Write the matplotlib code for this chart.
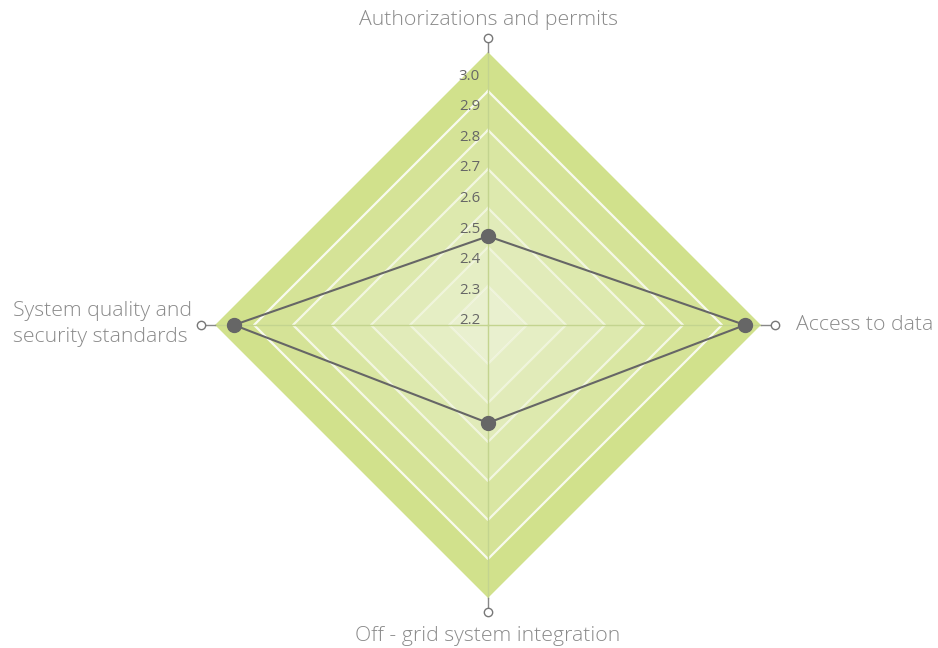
import numpy as np
import matplotlib.pyplot as plt
from matplotlib.colors import to_rgb

categories = ['Authorizations and permits', 'Access to data',
              'Off - grid system integration', 'System quality and\nsecurity standards']
values = [2.47, 3.02, 2.50, 3.01]
tick_values = [2.2, 2.3, 2.4, 2.5, 2.6, 2.7, 2.8, 2.9, 3.0]

r_min = 2.18      # value at the centre
r_max = 3.072     # value at the outer polygon
n_rings = 7
scale = 306.0     # pixels per value unit

angles = np.deg2rad([90, 0, 270, 180])

plt.rcParams['font.family'] = ['Open Sans', 'DejaVu Sans']

fig = plt.figure(figsize=(9.38, 6.48), dpi=100)
ax = fig.add_axes([0, 0, 1, 1])
cx, cy = 488, 648 - 325
ax.set_xlim(-cx / scale, (938 - cx) / scale)
ax.set_ylim(-cy / scale, (648 - cy) / scale)
ax.axis('off')


def xy(r, a):
    return r * np.cos(a), r * np.sin(a)


R = r_max - r_min
inner = np.array(to_rgb('#e9f0cf'))
outer = np.array(to_rgb('#d1e18c'))

# banded background, outer first
for k in range(n_rings, 0, -1):
    rk = R * k / n_rings
    px, py = xy(rk, angles)
    t = (k - 1) / (n_rings - 1)
    col = inner + (outer - inner) * t
    ax.fill(px, py, color=col, zorder=1, lw=0)
    if k < n_rings:
        ax.plot(np.append(px, px[0]), np.append(py, py[0]), color='white',
                lw=1.6, alpha=0.35 + 0.6 * t, zorder=2)

# spokes
r_end = 287 / scale
for a in angles:
    x0, y0 = xy(R, a)
    x1, y1 = xy(r_end, a)
    ax.plot([0, x0], [0, y0], color='#c3d48f', lw=1, zorder=3)
    ax.plot([x0, x1], [y0, y1], color='#888888', lw=1, zorder=3)
    ax.plot([x1], [y1], marker='o', ms=6, mfc='white', mec='#777777', mew=1, zorder=4)

# tick labels
for v in tick_values:
    ax.text(-8 / scale, v - r_min - 2 / scale, f'{v:.1f}', ha='right', va='center',
            fontsize=10.8, color='#666666', zorder=5)

# data
rv = np.array(values) - r_min
dx, dy = xy(rv, angles)
ax.plot(np.append(dx, dx[0]), np.append(dy, dy[0]), color='#666666', lw=1.5, zorder=6)
ax.plot(dx, dy, 'o', color='#666666', ms=10, zorder=7)

# category labels
lab_col = '#8a8a8a'
lab_fs = 15.3
ax.text(0, 305 / scale, categories[0], ha='center', va='center', fontsize=lab_fs,
        color=lab_col, fontweight='light')
ax.text(308 / scale, 0, categories[1], ha='left', va='center', fontsize=lab_fs,
        color=lab_col, fontweight='light')
ax.text(0, -311 / scale, categories[2], ha='center', va='center', fontsize=lab_fs,
        color=lab_col, fontweight='light')
ax.text(-296 / scale, 1 / scale, categories[3], ha='right', va='center', fontsize=lab_fs,
        color=lab_col, fontweight='light', linespacing=1.35, multialignment='left')

fig.savefig('out.png', dpi=100)
